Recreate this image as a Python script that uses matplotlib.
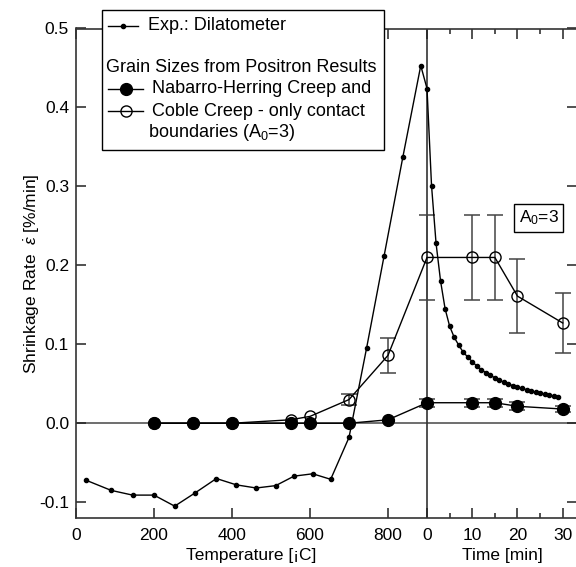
import numpy as np
import matplotlib.pyplot as plt
from matplotlib.lines import Line2D
from matplotlib.patches import Rectangle
from matplotlib.ticker import FixedLocator, FixedFormatter

plt.rcParams['font.family'] = ['Liberation Sans', 'DejaVu Sans']
plt.rcParams['axes.unicode_minus'] = False
plt.rcParams['mathtext.fontset'] = 'custom'
plt.rcParams['mathtext.rm'] = 'Liberation Sans'
plt.rcParams['mathtext.it'] = 'Liberation Sans:italic'

# dilatometer: heating ramp (temperature) then isothermal hold (minutes)
dil_temp = [25, 90, 145, 200, 253, 306, 360, 411, 462, 512, 559, 607, 653,
            700, 745, 790, 838, 884]
dil_temp_rate = [-0.072, -0.085, -0.091, -0.091, -0.105, -0.088, -0.070,
                 -0.078, -0.082, -0.079, -0.067, -0.064, -0.071, -0.018,
                 0.095, 0.212, 0.337, 0.453]
dil_time = list(range(30))
dil_time_rate = [0.424, 0.301, 0.228, 0.180, 0.145, 0.123, 0.109, 0.099,
                 0.090, 0.084, 0.078, 0.0725, 0.068, 0.064, 0.0606, 0.0577,
                 0.0547, 0.0518, 0.0497, 0.0475, 0.0459, 0.0441, 0.0425,
                 0.0408, 0.0395, 0.0383, 0.0370, 0.0357, 0.0345, 0.0332]

# positron grain sizes -> predicted rates
pos_temp = [200, 300, 400, 550, 600, 700, 800]
pos_time = [0, 10, 15, 20, 30]
nh_temp_rate = [0.0, 0.0, 0.0, 0.0, 0.0, 0.0, 0.0044]
nh_time_rate = [0.026, 0.026, 0.026, 0.0215, 0.018]
nh_temp_err = [0, 0, 0, 0, 0, 0, 0]
nh_time_err = [0.005, 0.005, 0.005, 0.005, 0.004]
coble_temp_rate = [0.0, 0.0, 0.0, 0.0044, 0.0087, 0.030, 0.086]
coble_time_rate = [0.210, 0.210, 0.210, 0.161, 0.127]
coble_temp_err = [0, 0, 0, 0, 0, 0.007, 0.022]
coble_time_err = [0.054, 0.054, 0.054, 0.047, 0.038]

T_HOLD = 900      # hold temperature, where the time scale starts
PER_MIN = 11.6    # axis units per minute on the time part
X_MAX = 1284.6

temp_ticks = [0, 200, 400, 600, 800]
time_ticks = [0, 10, 20, 30]
time_minor = [5, 15, 25]


def to_axis(temps, times):
    return np.concatenate([np.asarray(temps, float),
                           T_HOLD + PER_MIN * np.asarray(times, float)])


W, H = 576, 567
fig = plt.figure(figsize=(W / 100, H / 100), dpi=100)
ax = fig.add_axes([76 / W, 1 - 518 / H, (577 - 76) / W, (518 - 28.5) / H])

ax.axhline(0, color='#555555', lw=1.2, zorder=1)
ax.axvline(T_HOLD, color='#333333', lw=1.2, zorder=1)


def series(temps, trate, terr, times, mrate, merr, **kw):
    x = to_axis(temps, times)
    y = np.concatenate([trate, mrate])
    e = np.concatenate([terr, merr])
    has = e > 0
    ax.errorbar(x[has], y[has], yerr=e[has], fmt='none', ecolor='#444444',
                elinewidth=1.1, capsize=6, capthick=1.1, zorder=2)
    ax.plot(x, y, color='black', lw=1, **kw)


series(pos_temp, coble_temp_rate, coble_temp_err, pos_time, coble_time_rate,
       coble_time_err, marker='o', ms=8, mfc='none', mec='black', mew=1,
       zorder=3)
series(pos_temp, nh_temp_rate, nh_temp_err, pos_time, nh_time_rate,
       nh_time_err, marker='o', ms=8.5, mfc='black', mec='black', zorder=4)

ax.plot(to_axis(dil_temp, dil_time), dil_temp_rate + dil_time_rate,
        color='black', lw=1, marker='o', ms=3, zorder=5)

ax.set_xlim(0, X_MAX)
ax.set_ylim(-0.12, 0.5)

major = list(temp_ticks) + [T_HOLD + PER_MIN * t for t in time_ticks]
labels = [str(t) for t in temp_ticks] + [str(t) for t in time_ticks]
ax.xaxis.set_major_locator(FixedLocator(major))
ax.xaxis.set_major_formatter(FixedFormatter(labels))
ax.xaxis.set_minor_locator(FixedLocator([T_HOLD + PER_MIN * t for t in time_minor]))
ax.set_yticks(np.arange(-0.1, 0.51, 0.1))
ax.yaxis.set_major_formatter(plt.FormatStrFormatter('%.1f'))

ax.tick_params(which='both', direction='in', top=True, right=True,
               labelsize=12.5, colors='#222222', labelcolor='black', width=1.1)
ax.tick_params(which='major', length=7)
ax.tick_params(which='minor', length=3.5)
ax.tick_params(axis='x', pad=7)
ax.tick_params(axis='y', pad=5)
for s in ax.spines.values():
    s.set_color('#333333')
    s.set_linewidth(1.2)

# axis titles, one for each part of the x axis
ax.text(T_HOLD / 2, -0.076, 'Temperature [¡C]', transform=ax.get_xaxis_transform(),
        ha='center', va='center', fontsize=12.5)
ax.text((T_HOLD + X_MAX) / 2, -0.076, 'Time [min]', transform=ax.get_xaxis_transform(),
        ha='center', va='center', fontsize=12.5)
ax.set_ylabel(r'Shrinkage Rate  $\dot{\varepsilon}$ [%/min]', fontsize=12.5,
              labelpad=-2)

ax.text(T_HOLD + PER_MIN * 24.7, 0.26, r'A$_0$=3', ha='center', va='center',
        fontsize=12.5, zorder=6,
        bbox=dict(boxstyle='square,pad=0.25', fc='white', ec='black', lw=1))


# legend box, partly above the axes
def fx(px):
    return px / W


def fy(py):
    return 1 - py / H


fig.add_artist(Rectangle((fx(102), fy(150)), fx(384) - fx(102), fy(10) - fy(150),
                         transform=fig.transFigure, fc='white', ec='black',
                         lw=1, zorder=10))
entries = [
    (26, dict(marker='o', ms=3, mfc='black'), 148, 'Exp.: Dilatometer'),
    (89, dict(marker='o', ms=8.5, mfc='black'), 152, 'Nabarro-Herring Creep and'),
    (111, dict(marker='o', ms=8, mfc='none'), 152, 'Coble Creep - only contact'),
]
for py, mk, tx, txt in entries:
    fig.add_artist(Line2D([fx(108), fx(143 if mk['ms'] > 5 else 138)], [fy(py), fy(py)],
                          transform=fig.transFigure, color='black', lw=1,
                          zorder=11))
    xm = 125.5 if mk['ms'] > 5 else 123
    fig.add_artist(Line2D([fx(xm)], [fy(py)], transform=fig.transFigure,
                          color='black', mec='black', zorder=12, **mk))
    fig.text(fx(tx), fy(py), txt, ha='left', va='center', fontsize=13,
             zorder=12)
fig.text(fx(106), fy(67), 'Grain Sizes from Positron Results', ha='left',
         va='center', fontsize=13, zorder=12)
fig.text(fx(148), fy(133), r'boundaries (A$_0$=3)', ha='left', va='center',
         fontsize=13, zorder=12)

fig.savefig('out.png', dpi=100)
